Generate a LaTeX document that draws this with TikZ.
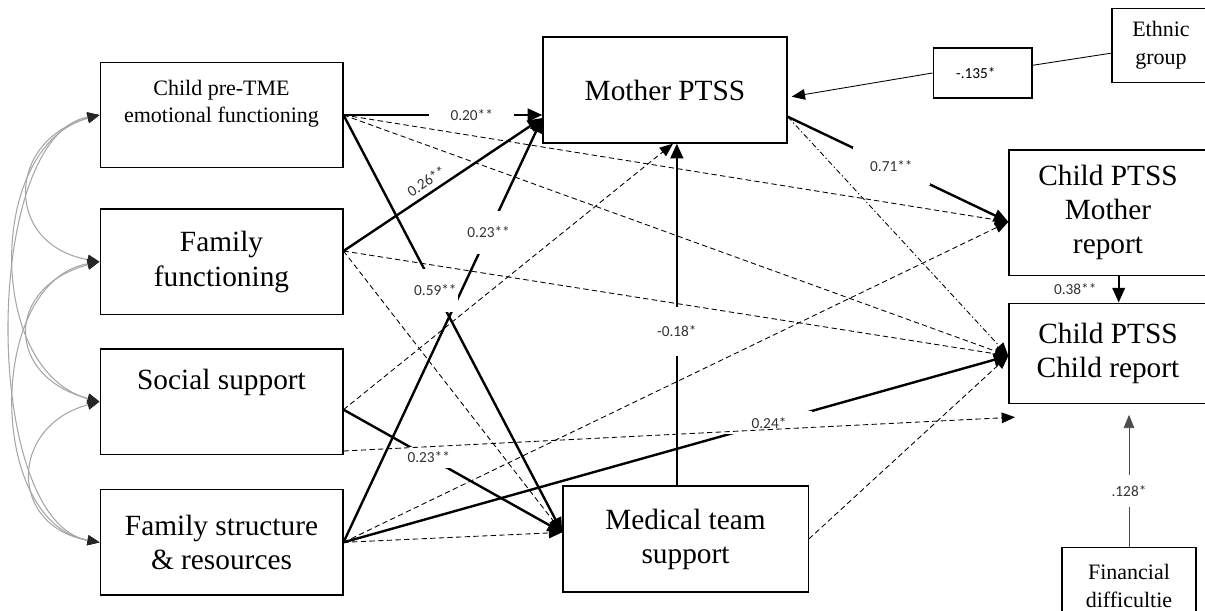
\documentclass[tikz,border=0pt]{standalone}
\usepackage{fontspec}
\setmainfont{Liberation Serif}
\newfontfamily\lblfont{Carlito}
\usetikzlibrary{arrows.meta, positioning, calc}

\begin{document}
\begin{tikzpicture}[
  x=0.75pt, y=-0.75pt,
  box/.style={draw, line width=1pt, align=center, inner sep=2pt},
  lft/.style={box, minimum width=182pt, minimum height=79pt, font=\fontsize{22}{26}\selectfont},
  big/.style={box, font=\fontsize{22}{25.5}\selectfont},
  sml/.style={box, font=\fontsize{16.5}{21}\selectfont},
  arr/.style={-{Triangle[length=11pt, width=9.5pt]}, line width=1.8pt},
  thn/.style={-{Triangle[length=10pt, width=8pt]}, line width=0.65pt},
  dsh/.style={thn, dash pattern=on 4pt off 2.5pt},
  dshdot/.style={thn, dash pattern=on 4pt off 2pt on 1pt off 2pt},
  cor/.style={{Triangle[length=9pt, width=7.5pt, color=black!85]}-{Triangle[length=9pt, width=7.5pt, color=black!85]}, line width=0.8pt, draw=black!35},
  lbl/.style={font=\lblfont\fontsize{11.5}{13}\selectfont, text=black!80, inner sep=1pt},
  gap/.style={lbl, fill=white}
]
\clip (0,0) rectangle (1205,610);

\node[lft, font=\fontsize{16.5}{20}\selectfont] (cpt) at (221.5,115) {Child pre-TME\\emotional functioning\\ \mbox{}};
\node[lft, below=30pt of cpt] (ff) {Family\\functioning};
\node[lft, below=25pt of ff] (ss) {Social support\\[8pt] \mbox{}};
\node[lft, below=25.5pt of ss] (fsr) {Family structure\\\& resources};

\node[big, minimum width=183pt, minimum height=79.5pt] (mom) at (665,90) {Mother PTSS};
\node[big, minimum width=184pt, minimum height=79.5pt] (med) at (685.5,539) {Medical team\\support};
\node[big, minimum width=148.5pt, minimum height=94pt] (cmr) at (1108,212.5) {Child PTSS\\Mother\\report};
\node[big, minimum width=148.5pt, minimum height=75pt, below=20pt of cmr] (ccr) {Child PTSS\\Child report};
\node[sml, minimum width=73.5pt, minimum height=55pt] (eth) at (1161,45.5) {Ethnic\\group};
\node[box, lbl, text=black, minimum width=74pt, minimum height=37.5pt] (lab) at (982.5,73) {-.135*\hspace*{10pt}};
\node[sml, minimum width=100.5pt, minimum height=58pt] (fin) at (1129,586) {Financial\\difficultie};

\coordinate (medtop) at ([xshift=-6.5pt]med.north);
\coordinate (finend) at ($(fin.north |- ccr.south)+(0,11)$);
\coordinate (ssend) at ([shift={(5pt,-10pt)}]ccr.south west);

\draw[cor] (cpt.west) to[out=195, in=170, looseness=1.7] (ff.west);
\draw[cor] (cpt.west) to[out=195, in=165, looseness=1.05] (ss.west);
\draw[cor] (cpt.west) to[out=190, in=170, looseness=0.72] (fsr.west);
\draw[cor] (ff.west) to[out=195, in=165, looseness=1.8] (ss.west);
\draw[cor] (ff.west) to[out=190, in=170, looseness=1.05] (fsr.west);
\draw[cor] (ss.west) to[out=195, in=170, looseness=1.7] (fsr.west);

\draw[line width=0.65pt] (eth) -- (lab);
\draw[thn] (lab.west) -- ([shift={(3pt,-5pt)}]mom.east);

\draw[arr] (cpt.east) -- node[gap, pos=0.645, inner xsep=16pt] {0.20**} (cpt.east -| mom.west);
\draw[arr] ([yshift=8pt]ff.east) -- node[lbl, sloped, above=3pt, pos=0.45] {0.26**} ([yshift=-21pt]mom.west);
\draw[arr] (fsr.east) -- node[gap, pos=0.73, inner ysep=12pt] {0.23**} ([yshift=-21pt]mom.west);
\draw[arr] (cpt.east) -- node[gap, pos=0.42, inner ysep=12pt] {0.59**} ([yshift=5pt]med.west);
\draw[arr] ([yshift=-6pt]ss.east) -- node[gap, pos=0.39, inner ysep=3.5pt] {0.23**} ([yshift=5pt]med.west);
\draw[arr] (fsr.east) -- node[gap, pos=0.64, inner xsep=19pt, inner ysep=4.5pt] {0.24*} ([yshift=-2pt]ccr.west);
\draw[arr] ([yshift=-20pt]mom.east) -- node[gap, pos=0.47, inner xsep=13pt, inner ysep=10pt] {0.71**} ([yshift=-7pt]cmr.west);
\draw[arr] (medtop) -- node[gap, pos=0.45, inner ysep=14pt] {-0.18*} (medtop |- mom.south);
\draw[arr, line width=1.3pt] ([xshift=8pt]cmr.south) -- node[lbl, left=15pt] {0.38**} ([xshift=8pt]ccr.north);
\draw[thn, draw=black!70] (fin.north) -- node[gap, pos=0.42, inner ysep=8pt] {.128*} (finend);

\draw[dsh] (cpt.east) -- ([yshift=-7pt]cmr.west);
\draw[dsh] (cpt.east) -- ([yshift=-2pt]ccr.west);
\draw[dsh] ([yshift=8pt]ff.east) -- ([yshift=-2pt]ccr.west);
\draw[dsh] ([yshift=8pt]ff.east) -- ([yshift=5pt]med.west);
\draw[dsh] ([yshift=-6pt]ss.east) -- ([xshift=6pt]mom.south);
\draw[dsh] ([yshift=3pt]ss.south east) -- (ssend);
\draw[dsh] (fsr.east) -- ([yshift=5pt]med.west);
\draw[dsh] (fsr.east) -- ([yshift=-7pt]cmr.west);
\draw[dsh] (med.east) -- ([yshift=-2pt]ccr.west);
\draw[dshdot] ([yshift=-20pt]mom.east) -- ([yshift=-2pt]ccr.west);
\end{tikzpicture}
\end{document}
